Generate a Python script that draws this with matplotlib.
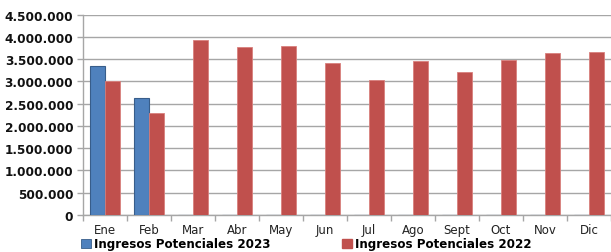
import matplotlib
matplotlib.use("Agg")
import matplotlib.pyplot as plt
import numpy as np
from matplotlib.ticker import FuncFormatter, FixedLocator
from matplotlib.patches import Patch

months = ["Ene", "Feb", "Mar", "Abr", "May", "Jun", "Jul", "Ago", "Sept", "Oct", "Nov", "Dic"]
ingresos_2023 = [3340000, 2630000, 0, 0, 0, 0, 0, 0, 0, 0, 0, 0]
ingresos_2022 = [3000000, 2300000, 3930000, 3770000, 3790000, 3410000, 3030000, 3460000, 3210000, 3475000, 3640000, 3660000]
label_2023 = "Ingresos Potenciales 2023"
label_2022 = "Ingresos Potenciales 2022"

blue = "#4F81BD"
red = "#C0504D"
grid = "#A6A6A6"

fig = plt.figure(figsize=(6.11, 2.53), dpi=100)
ax = fig.add_axes([83/611, 37/253, 1 - 83/611, (216 - 15.7)/253])

x = np.arange(len(months))
w = 0.34
ax.bar(x - w/2, ingresos_2023, width=w, color=blue, edgecolor="#385D8A", linewidth=0.8, zorder=3)
ax.bar(x + w/2, ingresos_2022, width=w, color=red, edgecolor="#D9807D", linewidth=0.6, zorder=3)

ax.set_xlim(-0.5, len(months) - 0.5)
ax.set_ylim(0, 4500000)
ax.set_yticks(np.arange(0, 4500001, 500000))
ax.yaxis.set_major_formatter(FuncFormatter(lambda v, p: f"{int(v):,}".replace(",", ".")))
ax.grid(axis="y", color=grid, linewidth=1.0, zorder=0)
ax.set_axisbelow(True)

ax.set_xticks(x)
ax.set_xticklabels(months)
ax.tick_params(axis="x", length=0, pad=6, labelsize=8.5, labelcolor="#222222")
ax.xaxis.set_minor_locator(FixedLocator(np.arange(-0.5, len(months), 1.0)))
ax.tick_params(axis="x", which="minor", length=4, color=grid, width=1)
ax.tick_params(axis="y", length=4, color=grid, width=1, pad=3, labelsize=8.7)
for lab in ax.get_yticklabels():
    lab.set_fontweight("bold")
    lab.set_color("#111111")

for s in ["top", "right"]:
    ax.spines[s].set_visible(False)
ax.spines["left"].set_color(grid)
ax.spines["bottom"].set_color(grid)
ax.spines["left"].set_linewidth(1)
ax.spines["bottom"].set_linewidth(1)

handles = [Patch(facecolor=blue, edgecolor="#385D8A", linewidth=0.6),
           Patch(facecolor=red, edgecolor=red)]
fig.legend(handles, [label_2023, label_2022], loc="center left", bbox_to_anchor=(81/611, 1 - 245/253),
           ncol=2, frameon=False, prop={"weight": "bold", "size": 8.6},
           handlelength=0.85, handleheight=0.85, handletextpad=0.25, columnspacing=6.0, borderpad=0, borderaxespad=0)

fig.savefig("out.png", dpi=100)
